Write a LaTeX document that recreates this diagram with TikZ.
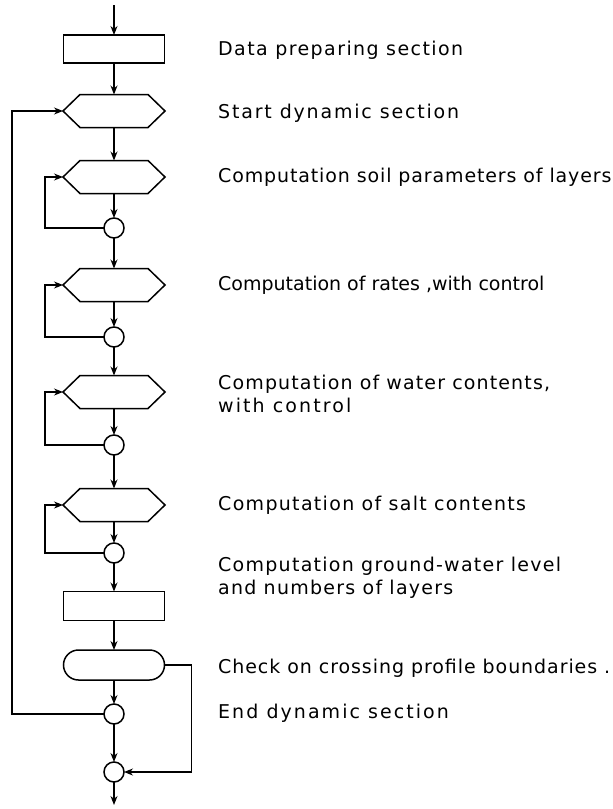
\documentclass[tikz,border=0pt]{standalone}
\usepackage{fontspec}
\newfontfamily\lblfont{DejaVu Sans}
\newcommand\lsp[1]{\addfontfeature{LetterSpace=#1}}
\usetikzlibrary{arrows.meta,calc}
\tikzset{
  shp/.style={line width=1.5pt},
  conn/.style={line width=1.25pt},
  arr/.style={conn,-{Stealth[length=9pt,width=7pt]}},
  boxnode/.style={rectangle,draw,shp,minimum width=101pt,minimum height=28pt,inner sep=0pt,outer sep=0pt},
  hexnode/.style={rectangle,draw=none,minimum width=102pt,minimum height=33pt,inner sep=0pt,outer sep=0pt},
  capnode/.style={rectangle,rounded corners=15pt,draw,shp,minimum width=101pt,minimum height=30pt,inner sep=0pt,outer sep=0pt},
  junc/.style={circle,draw,shp,minimum size=20pt,inner sep=0pt,outer sep=0pt},
  lbl/.style={anchor=west,inner sep=0pt,align=left,font=\lblfont\fontsize{19}{23}\selectfont\lsp{#1}},
  lbl/.default=0
}
\newcommand\hexdraw[1]{\draw[shp] ([xshift=17pt]#1.north west) -- ([xshift=-17pt]#1.north east) -- (#1.east) -- ([xshift=-17pt]#1.south east) -- ([xshift=17pt]#1.south west) -- (#1.west) -- cycle;}
\begin{document}
\begin{tikzpicture}[x=1pt,y=-1pt]
\useasboundingbox (0,0) rectangle (613,809);
\coordinate (top) at (114,5);
\node[boxnode] (r1) at (114,49) {};
\node[hexnode] (h1) at (114,111) {};
\node[hexnode] (h2) at (114,177) {};
\node[junc] (c1) at (114,228) {};
\node[hexnode] (h3) at (114,285) {};
\node[junc] (c2) at (114,337) {};
\node[hexnode] (h4) at (114,392) {};
\node[junc] (c3) at (114,445) {};
\node[hexnode] (h5) at (114,505) {};
\node[junc] (c4) at (114,553) {};
\node[boxnode,minimum height=29pt] (r2) at (114,606) {};
\node[capnode] (cap) at (114,665) {};
\node[junc] (c5) at (114,714) {};
\node[junc] (c6) at (114,772) {};
\coordinate (bot) at (114,805);
\hexdraw{h1}\hexdraw{h2}\hexdraw{h3}\hexdraw{h4}\hexdraw{h5}
% main flow
\draw[arr] (top) -- (r1.north);
\draw[arr] (r1.south) -- (h1.north);
\draw[arr] (h1.south) -- (h2.north);
\draw[arr] (h2.south) -- (c1.north);
\draw[arr] (c1.south) -- (h3.north);
\draw[arr] (h3.south) -- (c2.north);
\draw[arr] (c2.south) -- (h4.north);
\draw[arr] (h4.south) -- (c3.north);
\draw[arr] (c3.south) -- (h5.north);
\draw[arr] (h5.south) -- (c4.north);
\draw[arr] (c4.south) -- (r2.north);
\draw[arr] (r2.south) -- (cap.north);
\draw[arr] (cap.south) -- (c5.north);
\draw[arr] (c5.south) -- (c6.north);
\draw[arr] (c6.south) -- (bot);
% loops
\draw[arr] (c1.west) -| ([xshift=-18pt]h2.west) -- (h2.west);
\draw[arr] (c2.west) -| ([xshift=-18pt]h3.west) -- (h3.west);
\draw[arr] (c3.west) -| ([xshift=-18pt]h4.west) -- (h4.west);
\draw[arr] (c4.west) -| ([xshift=-18pt]h5.west) -- (h5.west);
\draw[arr] (c5.west) -| ([xshift=-51pt]h1.west) -- (h1.west);
\draw[arr] (cap.east) -- ++(27,0) |- (c6.east);
% labels
\node[lbl=7.5] (t1) at (218,50) {Data preparing section};
\node[lbl=9.6] (t2) at (218,113) {Start dynamic section};
\node[lbl=4.6] (t3) at (218,177) {Computation soil parameters of layers};
\node[lbl=0] (t4) at (218,285) {Computation of rates ,with control};
\node[lbl] (t5) at (218,394) {{\lsp{6}Computation of water contents,}\\{\lsp{11}with control}};
\node[lbl=6.9] (t6) at (218,505) {Computation of salt contents};
\node[lbl] (t7) at (218,578) {{\lsp{6.7}Computation ground-water level}\\{\lsp{6.6}and numbers of layers}};
\node[lbl=4.9] (t8) at (218,668) {Check on crossing profile boundaries .};
\node[lbl=10.8] (t9) at (218,713) {End dynamic section};
\end{tikzpicture}
\end{document}
